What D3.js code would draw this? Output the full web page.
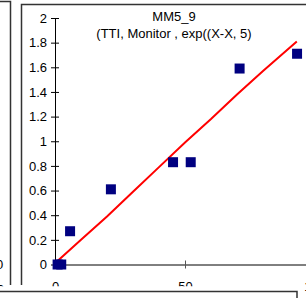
<!DOCTYPE html>
<html><head><meta charset="utf-8">
<script src="https://cdn.jsdelivr.net/npm/d3@7"></script>
<style>body{margin:0;background:#fff}svg{display:block}text{font-family:"Liberation Sans",Arial,sans-serif}</style>
</head><body><div id="c"></div>
<script>
const title = "MM5_9";
const subtitle = "(TTI, Monitor , exp((X-X, 5)";
const yTicks = [0,0.2,0.4,0.6,0.8,1,1.2,1.4,1.6,1.8,2];
const xTicks = [0,50,100];
const obsX = [1, 2.4, 5.8, 21.5, 45.4, 52.2, 71, 93.1];
const obsY = [0, 0, 0.27, 0.61, 0.83, 0.83, 1.59, 1.71];
const fitX = [0, 10, 20, 30, 40, 50, 60, 70, 80, 93];
const fitY = [0.01, 0.2, 0.39, 0.59, 0.79, 0.99, 1.18, 1.38, 1.57, 1.81];

const W=306,H=298;
const svg=d3.select("#c").append("svg").attr("width",W).attr("height",H);
svg.append("rect").attr("width",W).attr("height",H).attr("fill","#fff");

// neighbour chart border (left)
svg.append("path").attr("d","M-5,1.5H10.5V285").attr("fill","none").attr("stroke","#333").attr("stroke-width",1.5);
svg.append("text").attr("x",-4).attr("y",269).attr("font-size",13).attr("fill","#000").text("0");
svg.append("text").attr("x",-3).attr("y",294).attr("font-size",13).attr("fill","#000").text("0");

// own chart frame
svg.append("path").attr("d","M21.5,285V4.5H306").attr("fill","none").attr("stroke","#333").attr("stroke-width",1.5);

const x=d3.scaleLinear().domain([0,100]).range([55,315]);
const y=d3.scaleLinear().domain([0,2]).range([264.5,18]);

svg.append("text").attr("x",174).attr("y",21).attr("text-anchor","middle").attr("font-size",13).text(title);
svg.append("text").attr("x",174).attr("y",38).attr("text-anchor","middle").attr("font-size",13).text(subtitle);

const ya=svg.append("g").attr("transform","translate(55,0)")
  .call(d3.axisLeft(y).tickValues(yTicks).tickFormat(d3.format("~g")).tickSizeInner(4).tickSizeOuter(0).tickPadding(4));
ya.select(".domain").attr("stroke","#000");
ya.selectAll(".tick line").attr("x1",4).attr("stroke","#000");
ya.selectAll(".tick text").attr("font-size",13).attr("font-family","Liberation Sans, Arial, sans-serif").attr("fill","#000");

const xa=svg.append("g").attr("transform","translate(0,264.5)")
  .call(d3.axisBottom(x).tickValues(xTicks).tickSizeInner(4).tickSizeOuter(0).tickPadding(13));
xa.select(".domain").attr("stroke","#000");
xa.selectAll(".tick line").attr("y1",-4).attr("stroke","#555");
xa.selectAll(".tick text").attr("font-size",13).attr("font-family","Liberation Sans, Arial, sans-serif").attr("fill","#000");

svg.append("path").datum(fitX.map((d,i)=>[d,fitY[i]]))
  .attr("d",d3.line().x(d=>x(d[0])).y(d=>y(d[1])))
  .attr("fill","none").attr("stroke","#ff0000").attr("stroke-width",2);

svg.selectAll("rect.pt").data(obsX.map((d,i)=>[d,obsY[i]])).enter().append("rect")
  .attr("class","pt").attr("x",d=>x(d[0])-5).attr("y",d=>y(d[1])-5).attr("width",10).attr("height",10).attr("fill","#000080");

// lower neighbour chart covering
svg.append("rect").attr("x",-5).attr("y",286.5).attr("width",W+10).attr("height",20).attr("fill","#fff");
svg.append("text").attr("x",315).attr("y",291).attr("text-anchor","middle").attr("font-size",13).text("100");
svg.append("rect").attr("x",-5).attr("y",286.5).attr("width",300).attr("height",20).attr("fill","#fff");
svg.append("path").attr("d","M-5,291.5H297V300").attr("fill","none").attr("stroke","#333").attr("stroke-width",1.5);
</script></body></html>
